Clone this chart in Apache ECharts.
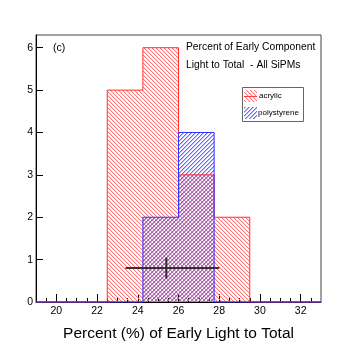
<!DOCTYPE html>
<html>
<head>
<meta charset="UTF-8">
<title>Early light fraction</title>
<script src="https://cdn.jsdelivr.net/npm/echarts@6/dist/echarts.min.js"></script>
<style>
  html, body { margin: 0; padding: 0; background: #fff; }
  #main { width: 357px; height: 347px; }
</style>
</head>
<body>
<div id="main"></div>
<script type="text/javascript">
    // histogram bins (edges) and counts
    const xEdges = [19, 20.75, 22.5, 24.25, 26, 27.75, 29.5, 31.25, 33]
    const acrylicCounts = [0, 0, 5, 6, 3, 2, 0, 0]
    const polystyreneCounts = [0, 0, 0, 2, 4, 0, 0, 0]

    // mean marker with its spread
    const meanPoint = [25.4, 0.8]
    const meanRangeX = [23.4, 28.0]
    const meanRangeY = [0.55, 1.05]

    const xMajorTicks = [20, 22, 24, 26, 28, 30, 32]
    const xMinorTicks = []
    for (let v = 19.5; v < 33; v += 0.5) xMinorTicks.push(v)
    const yTicks = [0, 1, 2, 3, 4, 5, 6]

    const FONT = 'Liberation Sans, Arial, sans-serif'

    // hatch patterns (drawn on a small canvas, repeated)
    function hatch(rgb, dir, side) {
        const c = document.createElement('canvas')
        c.width = 4
        c.height = 4
        const ctx = c.getContext('2d')
        const img = ctx.createImageData(4, 4)
        function put(x, y, a) {
            const k = (y * 4 + ((x + 4) % 4)) * 4
            img.data[k] = rgb[0]
            img.data[k + 1] = rgb[1]
            img.data[k + 2] = rgb[2]
            img.data[k + 3] = a
        }
        for (let i = 0; i < 4; i++) {
            const x = dir > 0 ? 3 - i : i
            put(x, i, 255)
            put(x + 1, i, side)
        }
        ctx.putImageData(img, 0, 0)
        return { image: c, repeat: 'repeat' }
    }
    const RED = [255, 120, 120]
    const BLUE = [105, 105, 255]

    function binData(counts) {
        const out = []
        counts.forEach((v, i) => {
            if (v > 0) out.push([xEdges[i], xEdges[i + 1], v])
        })
        return out
    }

    function stepData(counts) {
        const out = counts.map((v, i) => [xEdges[i], v])
        out.push([xEdges[xEdges.length - 1], counts[counts.length - 1]])
        return out
    }

    function fillSeries(name, counts, rgb, dir, side, z) {
        const pattern = hatch(rgb, dir, side)
        return {
            name: name,
            type: 'custom',
            z: z,
            xAxisIndex: 0,
            data: binData(counts),
            encode: { x: [0, 1], y: 2 },
            renderItem: function (params, api) {
                const p0 = api.coord([api.value(0), api.value(2)])
                const p1 = api.coord([api.value(1), 0])
                return {
                    type: 'rect',
                    shape: { x: p0[0], y: p0[1], width: p1[0] - p0[0], height: p1[1] - p0[1] },
                    style: { fill: pattern, stroke: null }
                }
            }
        }
    }

    function outlineSeries(name, counts, color, z) {
        return {
            name: name,
            type: 'line',
            step: 'end',
            z: z,
            xAxisIndex: 0,
            symbol: 'none',
            data: stepData(counts),
            lineStyle: { color: color, width: 1 },
            clip: false
        }
    }

    const chart = echarts.init(document.getElementById('main'), null, { renderer: 'canvas' })

    const option = {
        animation: false,
        backgroundColor: '#fff',
        grid: {
            left: 36, top: 35, width: 285, height: 278,
            show: true, borderColor: '#444', borderWidth: 1
        },
        xAxis: [{
            type: 'value', min: 19, max: 33,
            name: 'Percent (%) of Early Light to Total',
            nameLocation: 'middle', nameGap: 24,
            nameTextStyle: { fontFamily: FONT, fontSize: 15.5, color: '#000' },
            axisLine: { lineStyle: { color: '#000', width: 1 } },
            axisTick: { inside: true, length: 8, customValues: xMajorTicks, lineStyle: { color: '#000' } },
            axisLabel: { customValues: xMajorTicks, fontFamily: FONT, fontSize: 10.5, color: '#000', margin: 4 },
            splitLine: { show: false }
        }, {
            type: 'value', min: 19, max: 33, position: 'bottom',
            axisLine: { show: false },
            axisTick: { inside: true, length: 4, customValues: xMinorTicks, lineStyle: { color: '#000' } },
            axisLabel: { show: false },
            splitLine: { show: false }
        }],
        yAxis: {
            type: 'value', min: 0, max: 6.3,
            axisLine: { show: true, lineStyle: { color: '#000', width: 1 } },
            axisTick: { show: true, inside: true, length: 7, customValues: yTicks, lineStyle: { color: '#000' } },
            axisLabel: { customValues: yTicks, fontFamily: FONT, fontSize: 10.5, color: '#000', margin: 3 },
            splitLine: { show: false }
        },
        graphic: [
            { type: 'text', left: 53, top: 43, style: { text: '(c)', font: '10.5px ' + FONT, fill: '#000' } },
            { type: 'text', left: 186, top: 42, style: { text: 'Percent of Early Component', font: '10.3px ' + FONT, fill: '#000' } },
            { type: 'text', left: 186, top: 60, style: { text: 'Light to Total  - All SiPMs', font: '10.3px ' + FONT, fill: '#000' } },
            // legend box
            { type: 'rect', shape: { x: 242.5, y: 87.5, width: 61, height: 34 }, style: { fill: '#fff', stroke: '#666', lineWidth: 1 }, z: 10 },
            { type: 'rect', shape: { x: 244, y: 90, width: 13, height: 12 }, style: { fill: hatch(RED, -1, 70) }, z: 11 },
            { type: 'line', shape: { x1: 244, y1: 96.5, x2: 257, y2: 96.5 }, style: { stroke: '#ff4040', lineWidth: 1 }, z: 11 },
            { type: 'text', left: 259, top: 92, style: { text: 'acrylic', font: '8px ' + FONT, fill: '#000' }, z: 11 },
            { type: 'rect', shape: { x: 244, y: 107, width: 13, height: 12 }, style: { fill: hatch(BLUE, 1, 120) }, z: 11 },
            { type: 'text', left: 258, top: 109, style: { text: 'polystyrene', font: '8px ' + FONT, fill: '#000' }, z: 11 }
        ],
        series: [
            fillSeries('acrylic', acrylicCounts, RED, -1, 70, 2),
            fillSeries('polystyrene', polystyreneCounts, BLUE, 1, 120, 3),
            outlineSeries('acrylic line', acrylicCounts, '#ff3030', 4),
            outlineSeries('polystyrene line', polystyreneCounts, '#3030ff', 5),
            {
                name: 'mean',
                type: 'custom',
                z: 6,
                data: [[meanPoint[0], meanPoint[1], meanRangeX[0], meanRangeX[1], meanRangeY[0], meanRangeY[1]]],
                encode: { x: 0, y: 1 },
                renderItem: function (params, api) {
                    const l = api.coord([api.value(2), api.value(1)])
                    const r = api.coord([api.value(3), api.value(1)])
                    const b = api.coord([api.value(0), api.value(4)])
                    const t = api.coord([api.value(0), api.value(5)])
                    return {
                        type: 'group',
                        children: [
                            { type: 'line', shape: { x1: l[0], y1: l[1], x2: r[0], y2: r[1] }, style: { stroke: '#333', lineWidth: 2 } },
                            { type: 'line', shape: { x1: b[0], y1: b[1], x2: t[0], y2: t[1] }, style: { stroke: '#333', lineWidth: 2 } }
                        ]
                    }
                }
            }
        ]
    }

    chart.setOption(option)
</script>
</body>
</html>
